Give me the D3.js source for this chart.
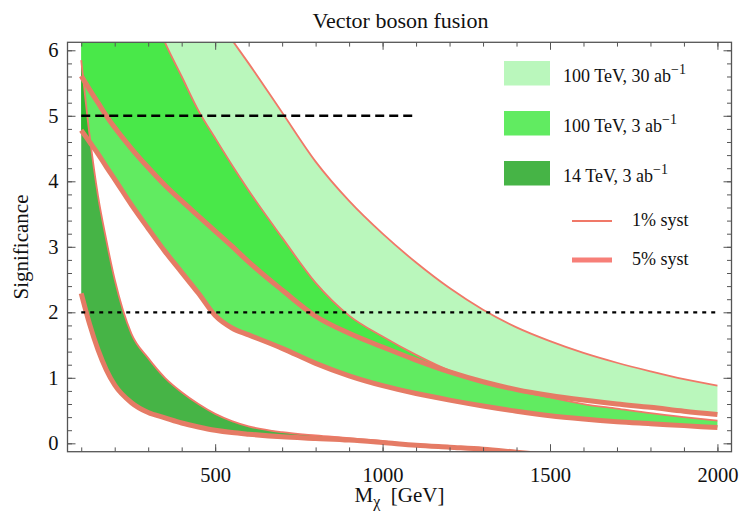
<!DOCTYPE html>
<html><head><meta charset="utf-8">
<script src="https://cdn.jsdelivr.net/npm/d3@7"></script>
<style>body{margin:0;background:#fff}svg{display:block}text{font-family:"Liberation Serif","Times New Roman",serif;fill:#111}</style>
</head><body>
<svg id="chart" width="741" height="515"></svg>
<script>
// ---- data ----
const mass = [100,125,150,175,200,250,300,350,400,450,500,550,600,700,800,900,1000,1100,1200,1300,1400,1500,1600,1700,1800,1900,2000];
// 100 TeV, 30 ab^-1
const sig100TeV30_syst1 = [9.7,9.5,9.3,9.1,8.9,8.5,8.1,7.7,7.3,6.9,6.53,6.16,5.8,5.05,4.3,3.7,3.2,2.76,2.37,2.04,1.77,1.56,1.38,1.23,1.1,0.98,0.88];
const sig100TeV30_syst5 = [5.61,5.40,5.20,5.0,4.82,4.5,4.21,3.94,3.70,3.47,3.24,3.01,2.77,2.34,1.94,1.68,1.47,1.27,1.09,0.94,0.82,0.73,0.66,0.60,0.55,0.49,0.44];
// 100 TeV, 3 ab^-1
const sig100TeV3_syst1 = [9.3,9.0,8.7,8.4,8.1,7.5,6.75,6.12,5.6,5.08,4.66,4.25,3.86,3.14,2.45,1.95,1.63,1.35,1.11,0.95,0.81,0.70,0.60,0.53,0.46,0.40,0.345];
const sig100TeV3_syst5 = [4.78,4.60,4.42,4.22,4.03,3.64,3.28,2.93,2.61,2.29,1.95,1.76,1.655,1.45,1.22,1.03,0.88,0.76,0.66,0.57,0.49,0.42,0.37,0.33,0.30,0.27,0.24];
// 14 TeV, 3 ab^-1
const sig14TeV3_syst1 = [5.85,4.7,3.78,3.10,2.5,1.67,1.3,1.0,0.78,0.60,0.45,0.34,0.26,0.17,0.12,0.08,0.035,-0.02,-0.05,-0.08,-0.125,-0.17,-0.215,-0.26,-0.30,-0.34,-0.38];
const sig14TeV3_syst5 = [2.29,1.82,1.43,1.12,0.89,0.62,0.47,0.39,0.31,0.25,0.20,0.165,0.14,0.10,0.075,0.05,0.012,-0.03,-0.06,-0.09,-0.135,-0.18,-0.225,-0.27,-0.31,-0.35,-0.39];

const xTicks = [500,1000,1500,2000];
const xMinorTicks = d3.range(100,2001,100);
const yTicks = [0,1,2,3,4,5,6];
const yMinorTicks = d3.range(0,30.5,1).map(d=>d/5);
const discoveryLevel = 5, exclusionLevel = 2;
const legendLabels = ["100 TeV, 30 ab","100 TeV, 3 ab","14 TeV, 3 ab"];
const legendLines = ["1% syst","5% syst"];

// ---- styles ----
const colLight = "#baf7bc", colMed = "#61eb61", colBright = "#49e849", colDark = "#46b446", colDarkOv = "#2cb72c";
const red = "#f07868", redThick = "#e57b65";

const svg = d3.select("#chart");
const L = 67.5, R = 731.5, T = 42.3, B = 451.7;
const x = d3.scaleLinear().domain([59, 2042]).range([L, R]);
const y = d3.scaleLinear().domain([-0.128, 6.122]).range([B, T]);

const defs = svg.append("defs");
defs.append("clipPath").attr("id","plotClip").append("rect").attr("x",L).attr("y",T).attr("width",R-L).attr("height",B-T);

function band(lo, hi){
  return d3.area().x((d,i)=>x(mass[i])).y0((d,i)=>y(lo[i])).y1((d,i)=>y(hi[i])).curve(d3.curveMonotoneX)(mass);
}
function line(v){
  return d3.line().x((d,i)=>x(mass[i])).y((d,i)=>y(v[i])).curve(d3.curveMonotoneX)(mass);
}
const bandA = band(sig100TeV30_syst5, sig100TeV30_syst1);
const bandB = band(sig100TeV3_syst5, sig100TeV3_syst1);
const bandC = band(sig14TeV3_syst5, sig14TeV3_syst1);
defs.append("clipPath").attr("id","clipA").append("path").attr("d",bandA);
defs.append("clipPath").attr("id","clipB").append("path").attr("d",bandB);

const g = svg.append("g").attr("clip-path","url(#plotClip)");
g.append("path").attr("d",bandA).attr("fill",colLight);
g.append("path").attr("d",bandB).attr("fill",colMed);
g.append("g").attr("clip-path","url(#clipA)").append("path").attr("d",bandB).attr("fill",colBright);
g.append("path").attr("d",bandC).attr("fill",colDark);
g.append("g").attr("clip-path","url(#clipB)").append("path").attr("d",bandC).attr("fill",colDarkOv);

[sig100TeV30_syst1, sig100TeV3_syst1, sig14TeV3_syst1].forEach(v=>{
  g.append("path").attr("d",line(v)).attr("fill","none").attr("stroke",red).attr("stroke-width",1.8);
});
[sig100TeV30_syst5, sig100TeV3_syst5, sig14TeV3_syst5].forEach(v=>{
  g.append("path").attr("d",line(v)).attr("fill","none").attr("stroke",redThick).attr("stroke-width",5);
});

// reference lines
g.append("line").attr("x1",x(100)).attr("x2",x(1100)).attr("y1",y(discoveryLevel)).attr("y2",y(discoveryLevel))
  .attr("stroke","#000").attr("stroke-width",2.4).attr("stroke-dasharray","9,5");
g.append("line").attr("x1",x(100)).attr("x2",x(2000)).attr("y1",y(exclusionLevel)).attr("y2",y(exclusionLevel))
  .attr("stroke","#000").attr("stroke-width",2.2).attr("stroke-dasharray","4,5");

// axes with inward ticks
const frameCol = "#555";
function styleAxis(sel){ sel.select(".domain").remove(); sel.selectAll("line").attr("stroke",frameCol).attr("stroke-width",1); }
const fmt = d3.format("d");
svg.append("g").attr("transform",`translate(0,${B})`).call(d3.axisBottom(x).tickValues(xMinorTicks).tickSize(-4.3).tickFormat("")).call(styleAxis);
svg.append("g").attr("transform",`translate(0,${B})`).call(d3.axisBottom(x).tickValues(xTicks).tickSize(-7.5).tickPadding(16).tickFormat(fmt)).call(styleAxis)
  .selectAll("text").attr("font-size",20.5).attr("fill","#111");
svg.append("g").attr("transform",`translate(0,${T})`).call(d3.axisTop(x).tickValues(xMinorTicks).tickSize(-4.3).tickFormat("")).call(styleAxis);
svg.append("g").attr("transform",`translate(0,${T})`).call(d3.axisTop(x).tickValues(xTicks).tickSize(-7.5).tickFormat("")).call(styleAxis);
svg.append("g").attr("transform",`translate(${L},0)`).call(d3.axisLeft(y).tickValues(yMinorTicks).tickSize(-4.5).tickFormat("")).call(styleAxis);
svg.append("g").attr("transform",`translate(${L},0)`).call(d3.axisLeft(y).tickValues(yTicks).tickSize(-8).tickFormat(fmt)).call(styleAxis)
  .selectAll("text").attr("font-size",20.5).attr("fill","#111").attr("x",-9);
svg.append("g").attr("transform",`translate(${R},0)`).call(d3.axisRight(y).tickValues(yMinorTicks).tickSize(-4.5).tickFormat("")).call(styleAxis);
svg.append("g").attr("transform",`translate(${R},0)`).call(d3.axisRight(y).tickValues(yTicks).tickSize(-8).tickFormat("")).call(styleAxis);
svg.append("rect").attr("x",L).attr("y",T).attr("width",R-L).attr("height",B-T).attr("fill","none").attr("stroke",frameCol).attr("stroke-width",1.3);

// titles
svg.append("text").attr("x",(L+R)/2 + 1).attr("y",28).attr("text-anchor","middle").attr("font-size",22).text("Vector boson fusion");
svg.append("text").attr("transform",`translate(28,${(T+B)/2}) rotate(-90)`).attr("text-anchor","middle").attr("font-size",21).text("Significance");
const xl = svg.append("text").attr("x",(L+R)/2).attr("y",502).attr("text-anchor","middle").attr("font-size",21);
xl.append("tspan").text("M");
xl.append("tspan").attr("font-size",16).attr("dy",5).text("χ");
xl.append("tspan").attr("dy",-5).text("\u2002[GeV]");

// legend
const legCols = [colLight, colMed, colDark];
legendLabels.forEach((lab,i)=>{
  const yy = 61 + i*50;
  svg.append("rect").attr("x",504).attr("y",yy).attr("width",46).attr("height",24.5).attr("fill",legCols[i]);
  const t = svg.append("text").attr("x",563).attr("y",yy+21).attr("font-size",18);
  t.append("tspan").text(lab);
  t.append("tspan").attr("dy",-8).attr("font-size",14).text("−1");
});
legendLines.forEach((lab,i)=>{
  const yy = 221 + i*39;
  svg.append("line").attr("x1",572).attr("x2",612).attr("y1",yy).attr("y2",yy).attr("stroke",i?"#f77f78":red).attr("stroke-width",i?5:1.8);
  svg.append("text").attr("x",632).attr("y",yy+5).attr("font-size",18).text(lab);
});
</script>
</body></html>
